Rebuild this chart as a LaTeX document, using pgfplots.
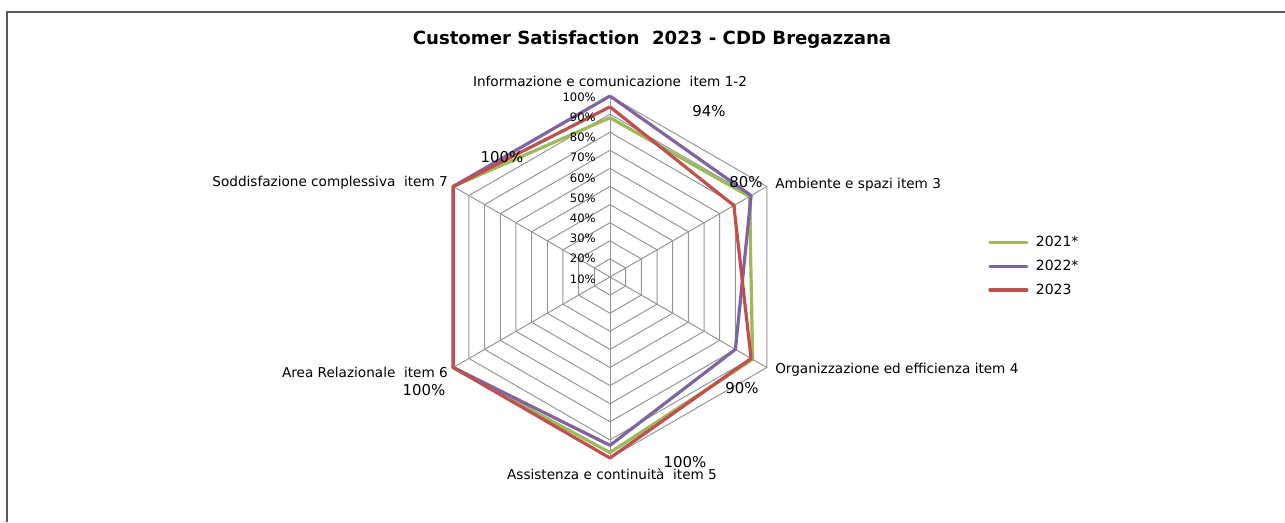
\documentclass[border=0pt]{standalone}
\usepackage{pgfplots}
\pgfplotsset{compat=1.18}
\usepgfplotslibrary{polar}
\usepackage{fontspec}
\setmainfont{DejaVu Sans}
\definecolor{c21}{RGB}{155,187,89}
\definecolor{c22}{RGB}{128,100,162}
\definecolor{c23}{RGB}{192,80,77}
\definecolor{gridc}{RGB}{150,150,150}
\definecolor{framec}{RGB}{89,89,89}
\newcommand{\catfont}{\fontsize{10.2}{12}\selectfont}
\newcommand{\tickfont}{\fontsize{8.7}{10}\selectfont}
\newcommand{\valfont}{\fontsize{11.2}{13}\selectfont}
\begin{document}
\begin{tikzpicture}[x=0.75pt,y=0.75pt]
\path[use as bounding box] (0,0) rectangle (1285,522);
\draw[framec, line width=1.1pt] (7,0) -- (7,510) -- (1285,510);
\begin{axis}[at={(0,0)}, anchor=south west, scale only axis,
  width=963.75pt, height=391.5pt,
  xmin=-337.02, xmax=372.93, ymin=-135.36, ymax=153.04,
  hide axis, clip=false,
  legend style={at={(0.7689,0.5517)}, anchor=north west, draw=none, fill=none,
    font=\fontsize{10.5}{12}\selectfont, row sep=5.5pt, inner sep=0pt,
    nodes={inner sep=1.5pt}},
  legend cell align=left,
  legend image code/.code={\draw[#1, line width=2.4pt, line cap=round] (0pt,0pt) -- (27.75pt,0pt);},
  /tikz/every odd column/.append style={column sep=4pt},
]
% grid rings
\pgfplotsinvokeforeach{10,20,30,40,50,60,70,80,90,100}{
  \addplot[gridc, line width=0.75pt, forget plot, data cs=polar, mark=none]
    coordinates {(90,#1) (30,#1) (-30,#1) (-90,#1) (-150,#1) (150,#1) (90,#1)};
}
% spokes
\pgfplotsinvokeforeach{90,30,-30,-90,-150,150}{
  \addplot[gridc, line width=0.75pt, forget plot, data cs=polar, mark=none]
    coordinates {(#1,0) (#1,100)};
}
\addplot[c21, line width=2.4pt, data cs=polar, mark=none, line join=round]
  coordinates {(90,88) (30,89) (-30,91) (-90,97) (-150,100) (150,100) (90,88)};
\addlegendentry{2021*}
\addplot[c22, line width=2.4pt, data cs=polar, mark=none, line join=round]
  coordinates {(90,100) (30,90) (-30,80) (-90,93) (-150,100) (150,100) (90,100)};
\addlegendentry{2022*}
\addplot[c23, line width=2.4pt, data cs=polar, mark=none, line join=round]
  coordinates {(90,94) (30,79) (-30,90) (-90,100) (-150,100) (150,100) (90,94)};
\addlegendentry{2023}
\end{axis}
% title
\node[font=\fontsize{13.6}{15}\selectfont\bfseries] at (652,482) {Customer Satisfaction\ \ 2023 - CDD Bregazzana};
% category labels
\node[font=\catfont] at (610,441) {Informazione e comunicazione\ \ item 1-2};
\node[font=\catfont, anchor=west, inner sep=0pt] at (775,337) {Ambiente e spazi item 3};
\node[font=\catfont, anchor=west, inner sep=0pt] at (775,152) {Organizzazione ed efficienza item 4};
\node[font=\catfont] at (612,48) {Assistenza e continuità\ \ item 5};
\node[font=\catfont, anchor=east, inner sep=0pt] at (448,150) {Area Relazionale\ \ item 6};
\node[font=\catfont, anchor=east, inner sep=0pt] at (448,339) {Soddisfazione complessiva\ \ item 7};
% value labels
\node[font=\valfont] at (424,132) {100\%};
\node[font=\valfont] at (502,365) {100\%};
\node[font=\valfont] at (709,411) {94\%};
\node[font=\valfont] at (746,340) {80\%};
\node[font=\valfont] at (742,134) {90\%};
\node[font=\valfont] at (685,60) {100\%};
% ring labels
\foreach \k [count=\i from 0] in {100,90,80,70,60,50,40,30,20,10} {
  \node[font=\tickfont, anchor=east, inner sep=0pt] at (596,{522-97-\i*20.2}) {\k\%};
}
\end{tikzpicture}
\end{document}
